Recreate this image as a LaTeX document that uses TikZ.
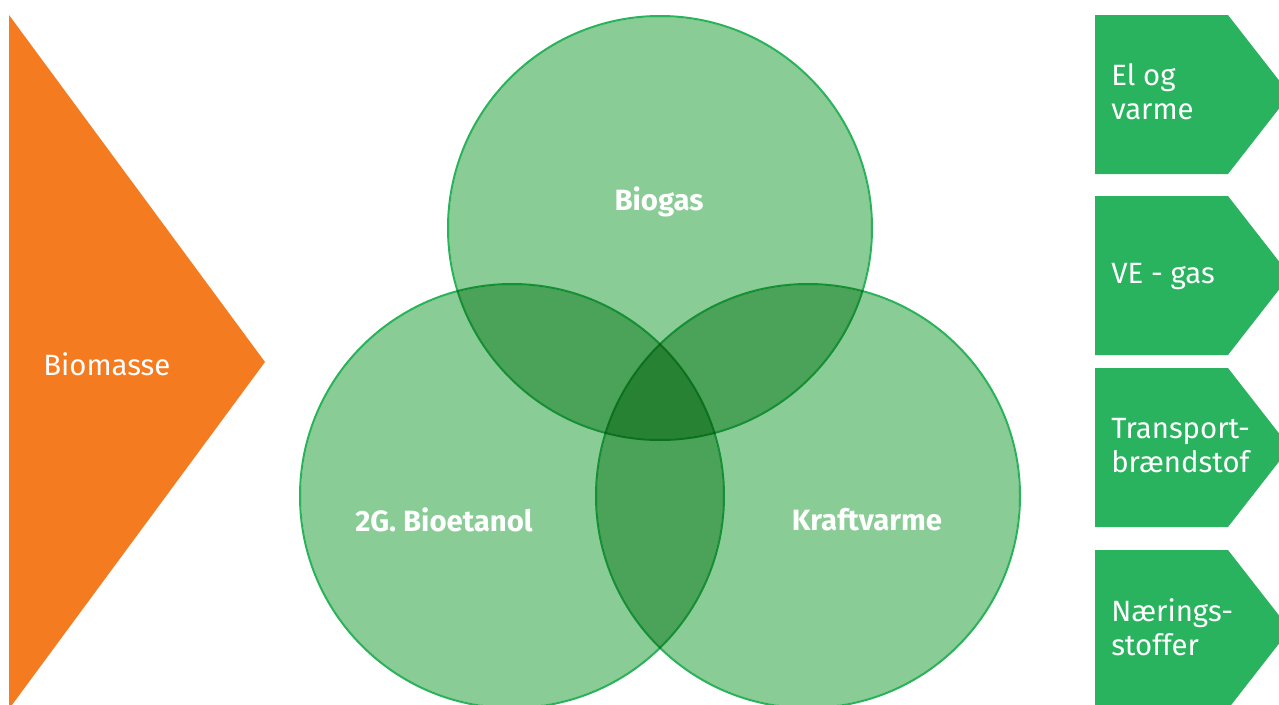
\documentclass[tikz,border=0pt]{standalone}
\usepackage{fontspec}
\setmainfont{Fira Sans}
\definecolor{biomasseorange}{RGB}{244,123,32}
\definecolor{outgreen}{RGB}{41,179,94}
\definecolor{vennfill}{RGB}{138,204,150}
\definecolor{vennline}{RGB}{40,180,90}

\begin{document}
\begin{tikzpicture}[x=0.75pt,y=-0.75pt]
\tikzset{
  vennarea/.style={fill=vennfill,blend mode=multiply},
  vennring/.style={draw=vennline,line width=1.5pt,blend mode=multiply},
  venntext/.style={text=white,font=\fontsize{22}{26}\selectfont\bfseries,inner sep=0pt},
  outbox/.style={fill=outgreen},
  outtext/.style={text=white,font=\fontsize{22}{25.5}\selectfont,align=left,anchor=west,inner sep=0pt},
  intext/.style={text=white,font=\fontsize{22}{26}\selectfont,anchor=west,inner sep=0pt}
}
\useasboundingbox (0,0) rectangle (1279,704);
\clip (0,0) rectangle (1279,704);

% input
\fill[biomasseorange] (9,15) -- (265,362) -- (9,709) -- cycle;
\node[intext] (biomasse) at (43,364) {Biomasse};

% venn
\coordinate (c_biogas) at (660,228);
\coordinate (c_etanol) at (512,496);
\coordinate (c_kraft) at (808,496);
\foreach \c in {c_biogas,c_etanol,c_kraft} {
  \fill[vennarea] (\c) circle (211);
  \draw[vennring] (\c) circle (212);
}
\node[venntext] (biogas) at (659,202) {Biogas};
\node[venntext] (bioetanol) at (444,520) {2G. Bioetanol};
\node[venntext] (kraftvarme) at (867,520) {Kraftvarme};

% outputs
\foreach \y in {15,196,368,550}
  \fill[outbox] (1095,\y) -- (1228,\y) -- (1290,\y+79.5) -- (1228,\y+159) -- (1095,\y+159) -- cycle;
\node[outtext] (elvarme) at (1111,92) {El og\\varme};
\node[outtext] (vegas) at (1111,277) {VE - gas};
\node[outtext] (transport) at (1111,446) {Transport-\\brændstof};
\node[outtext] (naering) at (1111,627) {Nærings-\\stoffer};
\end{tikzpicture}
\end{document}
